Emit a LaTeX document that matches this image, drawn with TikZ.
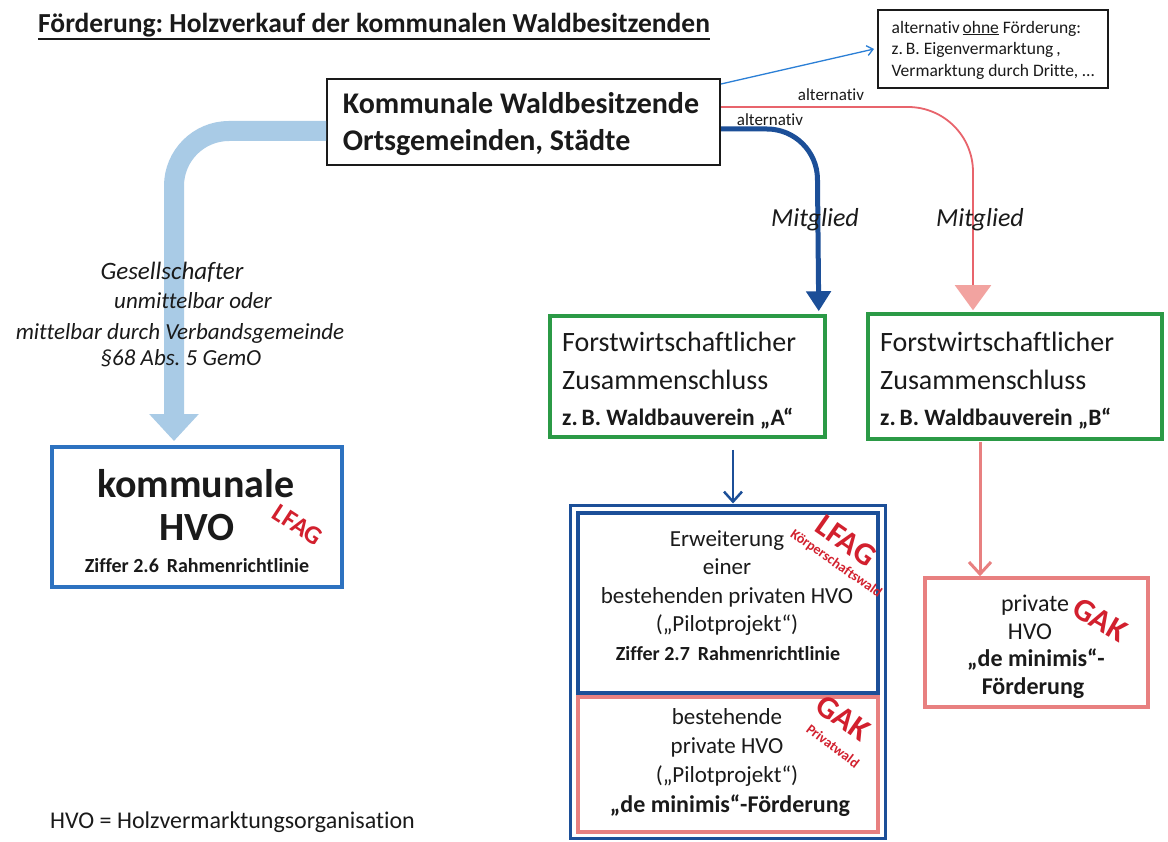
\documentclass[tikz,border=0pt]{standalone}
\usepackage{fontspec}
\setmainfont{Carlito}[Ligatures={NoCommon}]
\usetikzlibrary{arrows.meta}
\newcommand\myfs[2]{\fontsize{#1}{#2}\selectfont}
\definecolor{dblue}{HTML}{1C4F98}
\definecolor{lblue}{HTML}{A9CBE6}
\definecolor{tblue}{HTML}{2B7FD6}
\definecolor{kblue}{HTML}{2D72C0}
\definecolor{redln}{HTML}{E8646C}
\definecolor{pinkc}{HTML}{E88080}
\definecolor{pinkf}{HTML}{F2A3A0}
\definecolor{grn}{HTML}{2B9A46}
\definecolor{redtxt}{HTML}{D2202E}
\definecolor{ink}{HTML}{1A1A1A}
\frenchspacing
\begin{document}
\begin{tikzpicture}[x=1pt,y=-1pt,
  every node/.style={text=ink, inner sep=0pt},
  frame/.style={draw, fill=none, inner sep=0pt},
  redlabel/.style={text=redtxt, font=\bfseries},
]
\useasboundingbox[fill=white] (0,0) rectangle (1168,842);

% title
\node[anchor=base west] (title) at (38,33) {\myfs{27.5}{31}\bfseries Förderung: Holzverkauf der kommunalen Waldbesitzenden};
\draw[ink, line width=1.8] ([shift={(0,6)}]title.base west) -- ([shift={(0,6)}]title.base east);

% main box
\node[frame, draw=ink, line width=2, minimum width=393, minimum height=86] (main) at (523.5,122) {};
\node[align=left, font=\myfs{30}{37}\bfseries] (maintext) at (521,124) {Kommunale Waldbesitzende\\Ortsgemeinden, Städte};

% alternative box
\node[frame, draw=ink, line width=2, minimum width=230, minimum height=78] (alt) at (993,49) {};
\node[align=left, font=\myfs{17.5}{21.5}] (alttext) at (993,50) {alternativ\,\underline{ohne} Förderung:\\z.\,B. Eigenvermarktung\,,\\Vermarktung durch Dritte, \dots};
\draw[tblue, line width=1.3, -{Straight Barb[length=6pt,width=10pt]}] ([shift={(0,6)}]main.north east) -- ([shift={(-3,0)}]alt.west);

% boxes
\node[frame, draw=kblue, line width=4, minimum width=290, minimum height=140] (kom) at (197,517) {};
\node[frame, draw=grn, line width=3.5, minimum width=275, minimum height=121] (A) at (687.5,376.5) {};
\node[frame, draw=grn, line width=3.5, minimum width=294, minimum height=125] (B) at (1015,376.5) {};
\node[frame, draw=dblue, line width=3, minimum width=315, minimum height=333] (outer) at (727.5,671.5) {};
\node[frame, draw=dblue, line width=4.5, minimum width=300, minimum height=180] (up) at (728,603) {};
\node[frame, draw=pinkc, line width=4, minimum width=300, minimum height=135] (low) at (728,764.5) {};
\node[frame, draw=pinkc, line width=3.5, minimum width=223, minimum height=129] (priv) at (1036.5,642.5) {};

% light blue band
\draw[lblue, line width=20, rounded corners=55, -{Triangle[length=27pt,width=48pt]}]
  (main.west |- 0,131) -- (174,131) -- ([shift={(-23,-4)}]kom.north);

% dark blue thick
\draw[dblue, line width=5, rounded corners=50, -{Triangle[length=20pt,width=24pt]}]
  (main.east |- 0,129) -- (817,129) -- ([shift={(-8,-3)}]A.north east);

% red thin
\draw[redln, line width=1.8, rounded corners=65, -{Triangle[length=25pt,width=36pt,color=pinkf]}]
  (main.east |- 0,107) -- (973,107) -- ([shift={(-42,-2)}]B.north);

% labels on lines
\node[font=\myfs{17}{20}] (altr) at (831,95) {alternativ};
\node[font=\myfs{17}{20}] (altb) at (770,120) {alternativ};
\node[font=\myfs{26}{30}\itshape] (mitA) at (815,220) {Mitglied};
\node[font=\myfs{26}{30}\itshape] (mitB) at (980,220) {Mitglied};

% Gesellschafter
\node[font=\myfs{25}{30}\itshape] (g1) at (172,272) {Gesellschafter};
\node[font=\myfs{23}{27}\itshape] (g2) at (193,301) {unmittelbar oder};
\node[font=\myfs{23}{27}\itshape] (g3) at (180,333) {mittelbar durch Verbandsgemeinde};
\node[font=\myfs{23}{27}\itshape] (g4) at (181,358) {§68 Abs. 5 GemO};

% kommunale HVO text
\node[font=\myfs{40}{44}\bfseries] (k1) at (196,484) {kommunale};
\node[font=\myfs{40}{44}\bfseries] (k2) at (197,528) {HVO};
\node[font=\myfs{20}{24}\bfseries] (k3) at (197,566) {Ziffer 2.6\, Rahmenrichtlinie};
\node[redlabel, font=\myfs{26}{30}\bfseries, rotate=-33] (k4) at (298,525) {LFAG};

% box A / B text
\node[anchor=base west, font=\myfs{28}{32}] (a1) at (562,352) {Forstwirtschaftlicher};
\node[anchor=base west, font=\myfs{28}{32}] (a2) at (562,390) {Zusammenschluss};
\node[anchor=base west, font=\myfs{23.5}{27}\bfseries] (a3) at (562,425) {z.\,B. Waldbauverein „A“};
\node[anchor=base west, font=\myfs{28}{32}] (b1) at (880,352) {Forstwirtschaftlicher};
\node[anchor=base west, font=\myfs{28}{32}] (b2) at (880,390) {Zusammenschluss};
\node[anchor=base west, font=\myfs{23.5}{27}\bfseries] (b3) at (880,425) {z.\,B. Waldbauverein „B“};

% arrows below A and B
\draw[dblue, line width=2.5, -{Straight Barb[length=10pt,width=18pt]}] ([shift={(45.5,11)}]A.south) -- ([shift={(5.5,0)}]outer.north);
\draw[pinkc, line width=3, -{Straight Barb[length=12pt,width=22pt]}] ([shift={(-35,1)}]B.south) -- ([shift={(-56.5,0)}]priv.north);

% upper inner text
\node[align=center, font=\myfs{23}{28.5}] (u1) at (727,583) {Erweiterung\\einer\\bestehenden privaten HVO\\(„Pilotprojekt“)};
\node[font=\myfs{20}{24}\bfseries] (u2) at (728,654) {Ziffer 2.7\, Rahmenrichtlinie};
\node[redlabel, font=\myfs{32}{36}\bfseries, rotate=-35] (u3) at (846,541) {LFAG};
\node[redlabel, font=\myfs{14}{16}\bfseries, rotate=-35] (u4) at (836,564) {Körperschaftswald};

% lower inner text
\node[align=center, font=\myfs{23}{29}] (l1) at (727,747) {bestehende\\private HVO\\(„Pilotprojekt“)};
\node[font=\myfs{24}{28}\bfseries] (l2) at (730,806) {„de minimis“-Förderung};
\node[redlabel, font=\myfs{32}{36}\bfseries, rotate=-35] (l3) at (843,718) {GAK};
\node[redlabel, font=\myfs{14}{16}\bfseries, rotate=-37] (l4) at (833,746) {Privatwald};

% private HVO text
\node[font=\myfs{24}{28}] (p1) at (1035,605) {private};
\node[font=\myfs{24}{28}] (p2) at (1030,632) {HVO};
\node[font=\myfs{24}{28}\bfseries] (p3) at (1036,660) {„de minimis“-};
\node[font=\myfs{24}{28}\bfseries] (p4) at (1033,688) {Förderung};
\node[redlabel, font=\myfs{32}{36}\bfseries, rotate=-30] (p5) at (1100,620) {GAK};

% footnote
\node[anchor=west, font=\myfs{24}{28}] (hvo) at (50,822) {HVO = Holzvermarktungsorganisation};
\end{tikzpicture}
\end{document}
